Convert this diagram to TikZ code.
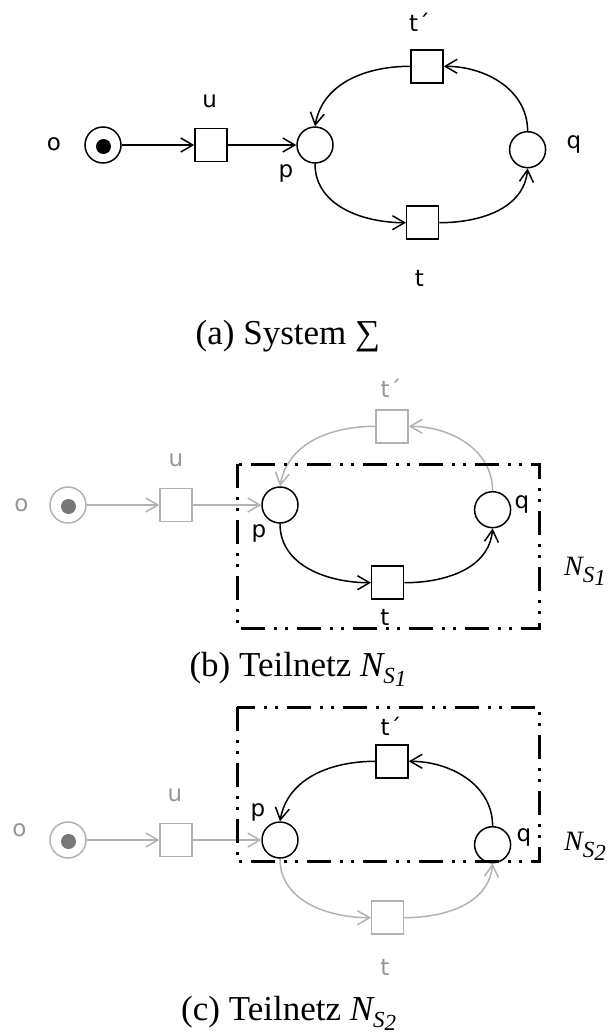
\documentclass[tikz,border=0pt]{standalone}
\usepackage{fontspec}
\setmainfont{Liberation Serif}
\newfontfamily\labfont{DejaVu Sans}
\usetikzlibrary{arrows.meta}
\definecolor{lgray}{RGB}{178,178,178}
\definecolor{tgray}{RGB}{120,120,120}
\definecolor{labgray}{RGB}{150,150,150}
\tikzset{
  pnplace/.style={circle,draw,line width=1.5pt,minimum size=36pt,inner sep=0pt},
  pntoken/.style={circle,fill,minimum size=15pt,inner sep=0pt},
  pntrans/.style={rectangle,draw,fill=white,line width=1.5pt,minimum width=32pt,minimum height=33pt,inner sep=0pt},
  pnarc/.style={line width=1.5pt,-{Straight Barb[length=12pt,width=14pt]}},
  pnlab/.style={font=\labfont\fontsize{23}{27}\selectfont,inner sep=0pt,anchor=base},
  captext/.style={font=\fontsize{35}{40}\selectfont,inner sep=0pt,anchor=base west},
  sidelabel/.style={font=\fontsize{28}{30}\selectfont\itshape,inner sep=0pt,anchor=base west},
  netframe/.style={line width=3pt,dash pattern=on 24pt off 9pt on 3pt off 8pt on 3pt off 9pt},
}
% #1 prefix, #2 colour of o/u part, #3 token colour, #4 colour of t part, #5 colour of t' part
\newcommand\petrinet[5]{%
  \node[pnplace,draw=#2] (#1o) at (103,-145) {};
  \node[pntoken,fill=#3] (#1k) at (103.5,-146.5) {};
  \node[pntrans,draw=#2] (#1u) at (211,-145) {};
  \node[pnplace] (#1p) at (315,-145) {};
  \node[pnplace] (#1q) at (527.6,-149.7) {};
  \node[pntrans,draw=#5] (#1tp) at (427,-66.3) {};
  \node[pntrans,draw=#4] (#1t) at (422.7,-222.7) {};
  \draw[pnarc,draw=#2] (#1o) -- (#1u);
  \draw[pnarc,draw=#2] (#1u) -- (#1p);
  \draw[pnarc,draw=#4] (#1p.south) to[out=-90,in=180] (#1t.west);
  \draw[pnarc,draw=#4] (#1t.east) to[out=0,in=-95] (#1q.south);
  \draw[pnarc,draw=#5] (#1q.north) to[out=90,in=0] (#1tp.east);
  \draw[pnarc,draw=#5] (#1tp.west) to[out=180,in=80] (#1p.north);
}
\newcommand\subSone[1]{\raisebox{-7pt}{\fontsize{23}{25}\selectfont S\raisebox{-3pt}{#1}}}
\begin{document}
\begin{tikzpicture}[x=1pt,y=1pt]
\useasboundingbox (0,0) rectangle (613,-1032);
% ---------- (a)
\petrinet{a}{black}{black}{black}{black}
\node[pnlab] (la-o) at (54,-150.5) {o};
\node[pnlab] (la-u) at (209.6,-107.3) {u};
\node[pnlab] (la-p) at (286,-177.5) {p};
\node[pnlab] (la-q) at (574,-149) {q};
\node[pnlab] (la-tp) at (419.5,-31.7) {t´};
\node[pnlab] (la-t) at (419.5,-286) {t};
\node[captext] (capa) at (195.5,-344) {(a) System ∑};
% ---------- (b)
\begin{scope}[shift={(-35,-360)}]
\petrinet{b}{lgray}{tgray}{black}{lgray}
\end{scope}
\coordinate (b1) at (237.3,-464.3);
\coordinate (b2) at (539.9,-628.3);
\draw[netframe] (b1) rectangle (b2);
\node[pnlab,text=labgray] (lb-o) at (21.5,-511.5) {o};
\node[pnlab,text=labgray] (lb-u) at (176,-466) {u};
\node[pnlab] (lb-p) at (258.8,-537) {p};
\node[pnlab] (lb-q) at (521.9,-508.5) {q};
\node[pnlab,text=labgray] (lb-tp) at (391,-397) {t´};
\node[pnlab] (lb-t) at (385,-625.7) {t};
\node[sidelabel] (nsb) at (564,-575) {N\subSone{1}};
\node[captext] (capb) at (189.3,-676) {(b) Teilnetz {\itshape N\subSone{1}}};
% ---------- (c)
\begin{scope}[shift={(-35,-695)}]
\petrinet{c}{lgray}{tgray}{lgray}{black}
\end{scope}
\coordinate (c1) at (237.3,-707.3);
\coordinate (c2) at (539.9,-861.7);
\draw[netframe] (c1) rectangle (c2);
\node[pnlab,text=labgray] (lc-o) at (19.5,-836.5) {o};
\node[pnlab,text=labgray] (lc-u) at (175,-801) {u};
\node[pnlab] (lc-p) at (258,-816.8) {p};
\node[pnlab] (lc-q) at (523.8,-841.8) {q};
\node[pnlab] (lc-tp) at (391,-735.7) {t´};
\node[pnlab,text=labgray] (lc-t) at (385,-975.7) {t};
\node[sidelabel] (nsc) at (564,-850) {N\subSone{2}};
\node[captext] (capc) at (181,-1020) {(c) Teilnetz {\itshape N\subSone{2}}};
\end{tikzpicture}
\end{document}
